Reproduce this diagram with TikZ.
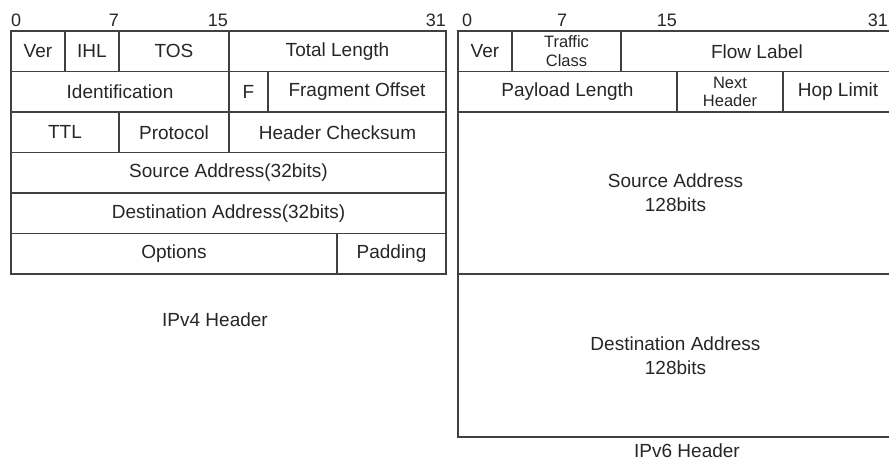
\documentclass[tikz,border=0pt]{standalone}
\usepackage{fontspec}
\setmainfont{Liberation Sans}

\begin{document}
\begin{tikzpicture}[
  x=1pt, y=-1pt,
  field/.style={rectangle, draw=black!75, line width=1.2pt, minimum height=40.5pt, inner sep=0pt, outer sep=0pt, align=center, text=black!85, font=\fontsize{19}{17}\selectfont},
  twoline/.style={field, font=\fontsize{16.5}{18.5}\selectfont},
  addrfield/.style={field, minimum width=435pt, font=\fontsize{19}{24}\selectfont},
  bitnum/.style={inner sep=0pt, text=black!85, font=\fontsize{18}{18}\selectfont},
  headername/.style={inner sep=0pt, text=black!85, font=\fontsize{19}{19}\selectfont}
]
  \clip (0,0) rectangle (889,463);
  \useasboundingbox (0,0) rectangle (889,463);

  % IPv4 bit positions
  \node[bitnum, anchor=base west] (vfour0) at (11,27) {0};
  \node[bitnum, anchor=base east] (vfour7) at (119,27) {7};
  \node[bitnum, anchor=base east] (vfour15) at (228,27) {15};
  \node[bitnum, anchor=base east] (vfour31) at (446,27) {31};

  % IPv4 header
  \node[field, minimum width=54pt] (ver4) at (38,51.25) {Ver};
  \node[field, minimum width=54pt] (ihl) at (92,51.25) {IHL};
  \node[field, minimum width=110pt] (tos) at (174,51.25) {TOS};
  \node[field, minimum width=217pt] (totlen) at (337.5,51.25) {Total Length};
  \node[field, minimum width=218pt] (ident) at (120,91.75) {Identification};
  \node[field, minimum width=39pt] (flags) at (248.5,91.75) {F};
  \node[field, minimum width=178pt] (fragoff) at (357,91.75) {Fragment Offset};
  \node[field, minimum width=108pt] (ttl) at (65,132.25) {TTL};
  \node[field, minimum width=110pt] (proto) at (174,132.25) {Protocol};
  \node[field, minimum width=217pt] (hdrsum) at (337.5,132.25) {Header Checksum};
  \node[field, minimum width=435pt] (src4) at (228.5,172.75) {Source Address(32bits)};
  \node[field, minimum width=435pt] (dst4) at (228.5,213.25) {Destination Address(32bits)};
  \node[field, minimum width=326pt] (opts) at (174,253.75) {Options};
  \node[field, minimum width=109pt] (pad) at (391.5,253.75) {Padding};
  \node[headername] (vfourname) at (215,320) {IPv4 Header};

  % IPv6 bit positions
  \node[bitnum, anchor=base west] (vsix0) at (462,27) {0};
  \node[bitnum, anchor=base] (vsix7) at (562,27) {7};
  \node[bitnum, anchor=base east] (vsix15) at (677,27) {15};
  \node[bitnum, anchor=base east] (vsix31) at (888,27) {31};

  % IPv6 header
  \node[field, minimum width=54pt] (ver6) at (485,51.25) {Ver};
  \node[twoline, minimum width=109pt] (tclass) at (566.5,51.25) {Traffic\\Class};
  \node[field, minimum width=272pt] (flow) at (757,51.25) {Flow Label};
  \node[field, minimum width=219pt] (paylen) at (567.5,91.75) {Payload Length};
  \node[twoline, minimum width=106pt] (nexthdr) at (730,91.75) {Next\\Header};
  \node[field, minimum width=110pt] (hoplim) at (838,91.75) {Hop Limit};
  \node[addrfield, minimum height=162pt] (src6) at (675.5,193) {Source Address\\128bits};
  \node[addrfield, minimum height=163pt] (dst6) at (675.5,355.5) {Destination Address\\128bits};
  \node[headername] (vsixname) at (687,451) {IPv6 Header};
\end{tikzpicture}
\end{document}
